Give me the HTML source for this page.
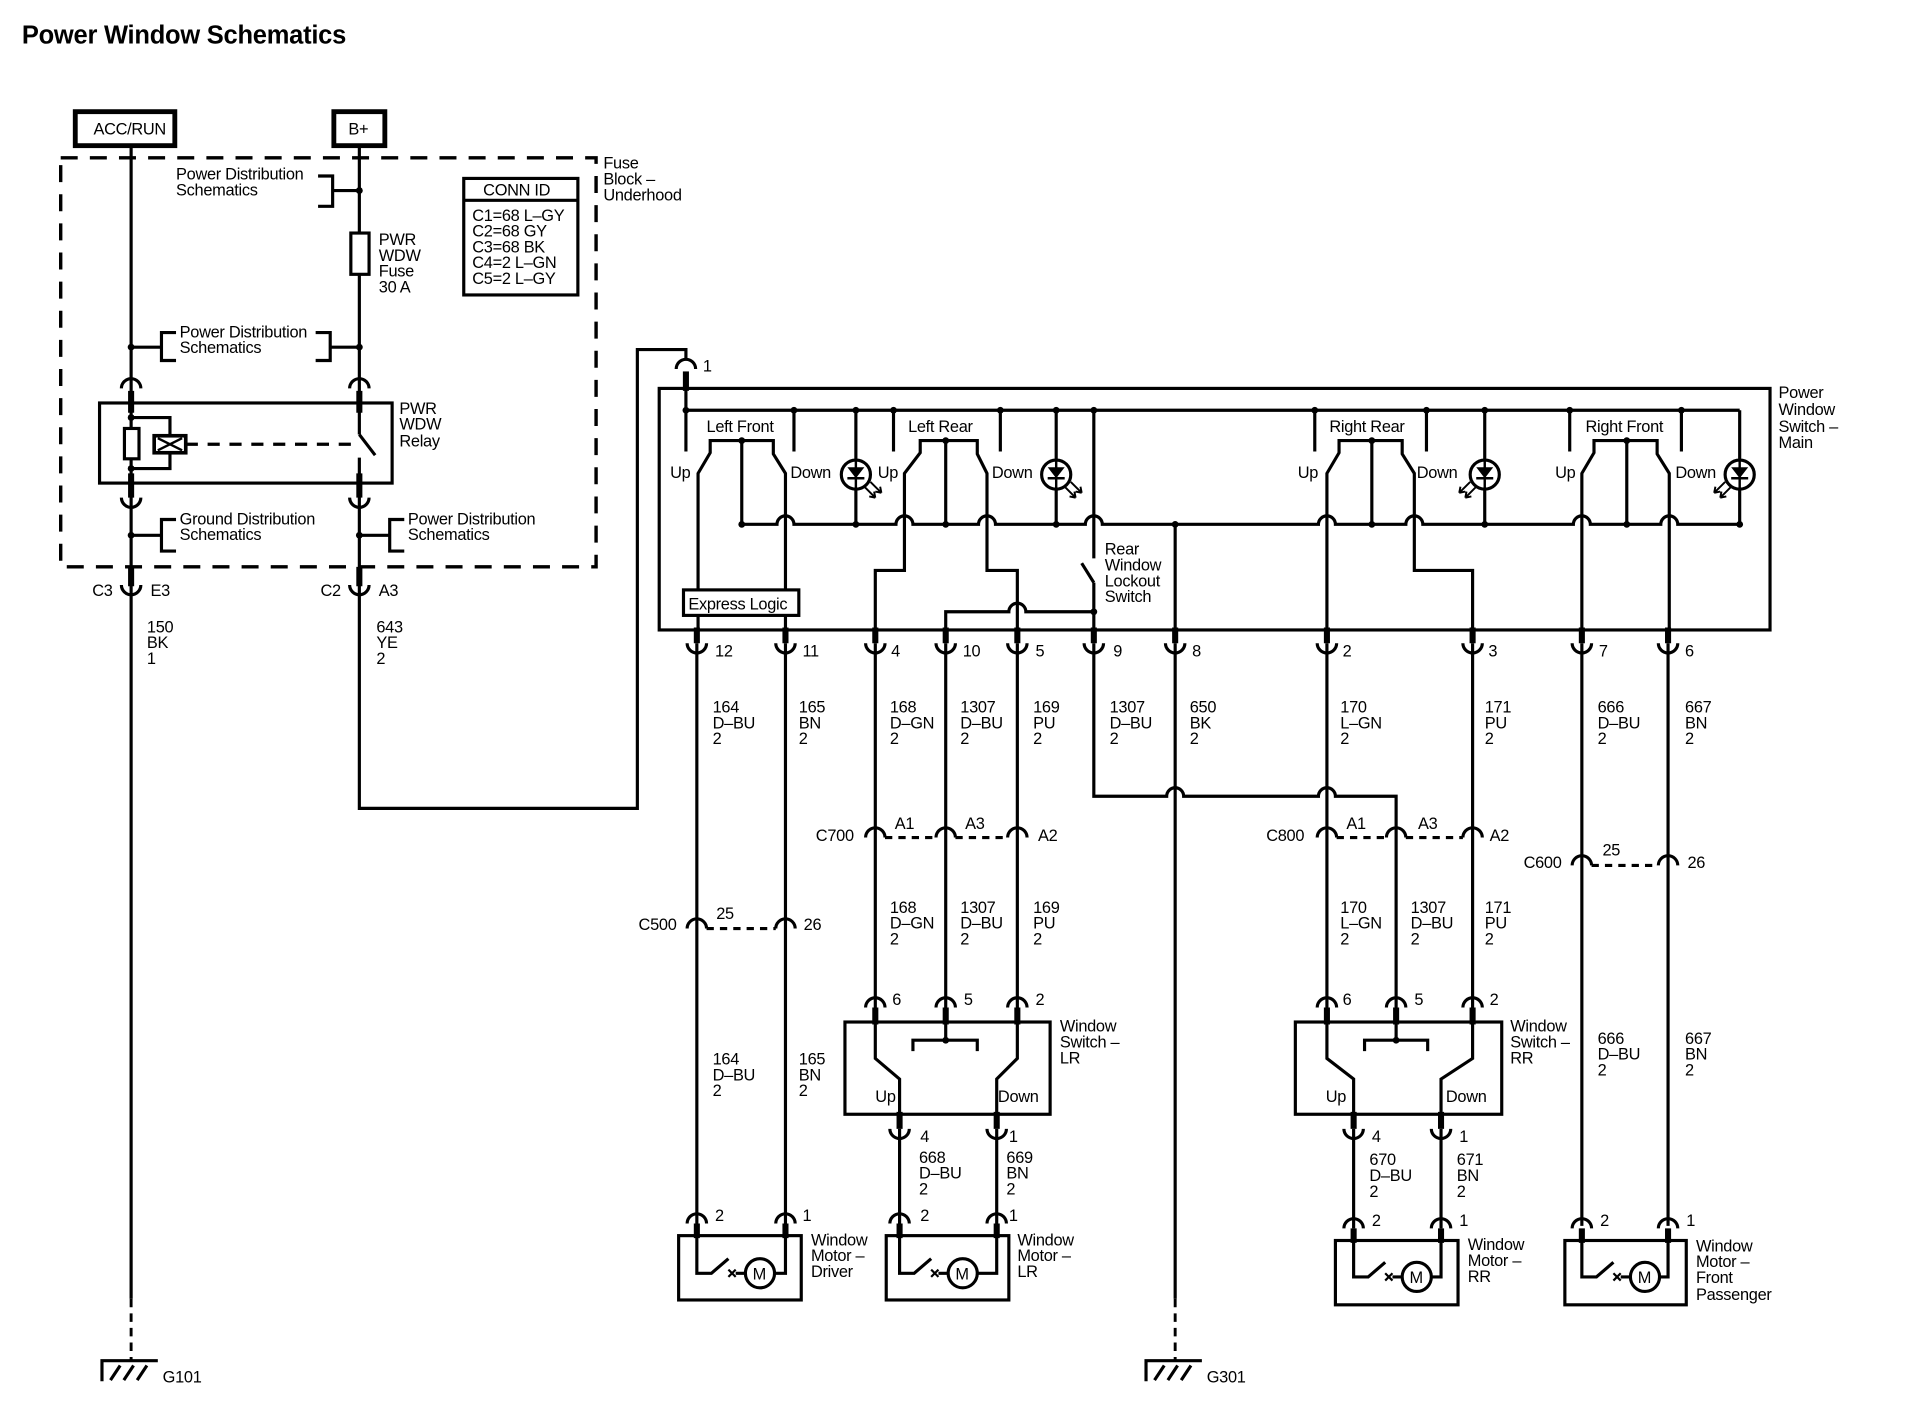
<!DOCTYPE html>
<html><head><meta charset="utf-8"><style>
html,body{margin:0;padding:0;background:#fff;}
svg{display:block;}
text{font-family:"Liberation Sans",Arial,sans-serif;font-size:13.5px;fill:#000;letter-spacing:-0.25px;}
.w{fill:none;stroke:#000;stroke-width:2.6;}
.k{fill:none;stroke:#000;stroke-width:5;}
.d{fill:none;stroke:#000;stroke-width:2.8;stroke-dasharray:14 10;}
.dt{fill:none;stroke:#000;stroke-width:2.4;stroke-dasharray:7 5;}
.b{fill:#fff;stroke:#000;stroke-width:2.6;}
</style></head><body>
<svg width="1906" height="1408" viewBox="0 0 1570 1160" preserveAspectRatio="none" xmlns="http://www.w3.org/2000/svg">
<rect width="1570" height="1160" fill="#fff"/>
<text x="18" y="36" style="font-size:21px;font-weight:bold;letter-spacing:-0.2px">Power Window Schematics</text>

<!-- top sources -->
<rect x="62" y="92" width="82" height="28" class="w" style="stroke-width:4"/>
<text x="77" y="111">ACC/RUN</text>
<rect x="275" y="92" width="42" height="28" class="w" style="stroke-width:4"/>
<text x="287" y="111">B+</text>

<!-- dashed fuse block -->
<rect x="50" y="130" width="441" height="337" class="d"/>
<text x="497" y="139">Fuse</text><text x="497" y="152">Block –</text><text x="497" y="165">Underhood</text>

<!-- CONN ID -->
<rect x="382" y="147" width="94" height="96" class="w"/>
<line x1="382" y1="165" x2="476" y2="165" class="w"/>
<text x="398" y="161">CONN ID</text>
<text x="389" y="182">C1=68 L–GY</text><text x="389" y="195">C2=68 GY</text><text x="389" y="208">C3=68 BK</text><text x="389" y="221">C4=2 L–GN</text><text x="389" y="234">C5=2 L–GY</text>

<!-- left wire 108 -->
<path d="M108 120 V1070" class="w"/>
<path d="M108 1070 V1120" class="dt"/>
<path d="M84 1138 V1121 H130 M91 1137 L99 1125 M102 1137 L110 1125 M113 1137 L121 1125" class="w"/>
<text x="134" y="1139">G101</text>
<!-- right wire 296 -->
<path d="M296 120 V358 M296 377 V666 H525 V288 H565 V296" class="w"/>
<path d="M296 358 L309 375" class="w"/>

<!-- PD bracket 1 -->
<text x="145" y="148">Power Distribution</text><text x="145" y="161">Schematics</text>
<path d="M262 145 H274 V170 H262 M274 157 H296" class="w"/>
<circle cx="296" cy="157" r="2.8"/>
<rect x="289" y="192" width="15" height="34" class="b"/>
<text x="312" y="202">PWR</text><text x="312" y="215">WDW</text><text x="312" y="228">Fuse</text><text x="312" y="241">30 A</text>

<!-- PD bracket 2 -->
<text x="148" y="278">Power Distribution</text><text x="148" y="291">Schematics</text>
<path d="M145 274 H133 V297 H145 M108 286 H133" class="w"/>
<path d="M260 274 H272 V297 H260 M272 286 H296" class="w"/>
<circle cx="108" cy="286" r="2.8"/><circle cx="296" cy="286" r="2.8"/>

<!-- relay -->
<path d="M100 320 A8 8 0 0 1 116 320 M288 320 A8 8 0 0 1 304 320" class="w"/>
<path d="M108 322 V340 M296 322 V340 M108 390 V410 M296 390 V410" class="k"/>
<rect x="82" y="332" width="241" height="66" class="w"/>
<text x="329" y="341">PWR</text><text x="329" y="354">WDW</text><text x="329" y="368">Relay</text>
<path d="M108 344 H140 V360 M140 373 V386 H108" class="w"/>
<circle cx="108" cy="344" r="2.8"/><circle cx="108" cy="386" r="2.8"/>
<rect x="102.5" y="353" width="12" height="25" class="b"/>
<rect x="127" y="359" width="26" height="14" class="w" style="stroke-width:3"/>
<path d="M130 361 L150 371 M130 371 L150 361" class="w" style="stroke-width:2"/>
<path d="M153 366 H290" class="w" style="stroke-dasharray:10 8"/>
<path d="M100 410 A8 8 0 0 0 116 410 M288 410 A8 8 0 0 0 304 410" class="w"/>

<!-- ground / PD bracket 3 -->
<text x="148" y="432">Ground Distribution</text><text x="148" y="445">Schematics</text>
<path d="M145 428 H133 V454 H145 M108 441 H133" class="w"/>
<text x="336" y="432">Power Distribution</text><text x="336" y="445">Schematics</text>
<path d="M333 428 H321 V454 H333 M296 441 H321" class="w"/>
<circle cx="108" cy="441" r="2.8"/><circle cx="296" cy="441" r="2.8"/>

<!-- cups under fuse block -->
<path d="M108 467 V483 M296 467 V483" class="k"/>
<path d="M100 482 A8 8 0 0 0 116 482 M288 482 A8 8 0 0 0 304 482" class="w"/>
<text x="76" y="491">C3</text><text x="124" y="491">E3</text>
<text x="264" y="491">C2</text><text x="312" y="491">A3</text>
<text x="121" y="521">150</text><text x="121" y="534">BK</text><text x="121" y="547">1</text>
<text x="310" y="521">643</text><text x="310" y="534">YE</text><text x="310" y="547">2</text>

<!-- connector 1 -->
<path d="M557 304 A8 8 0 0 1 573 304" class="w"/>
<path d="M565 306 V322" class="k"/>
<text x="579" y="306">1</text>

<!-- main switch box -->
<rect x="543" y="320" width="915" height="199" class="w"/>
<text x="1465" y="328">Power</text><text x="1465" y="342">Window</text><text x="1465" y="356">Switch –</text><text x="1465" y="369">Main</text>
<path d="M565 320 V372 M565 338 H1433" class="w"/>
<path d="M654 338 V372 M736 338 V372 M824 338 V372 M1083 338 V372 M1175 338 V372 M1293 338 V372 M1385 338 V372 M901 338 V460 M891 464 L901 480 M901 480 V519" class="w"/>
<path d="M705 338 V432 M870 338 V432 M1223 338 V432 M1433 338 V432" class="w"/>
<path d="M611 432 H640 A7 7 0 0 1 654 432 H738 A7 7 0 0 1 752 432 H806 A7 7 0 0 1 820 432 H894 A7 7 0 0 1 908 432 H1086 A7 7 0 0 1 1100 432 H1158 A7 7 0 0 1 1172 432 H1296 A7 7 0 0 1 1310 432 H1368 A7 7 0 0 1 1382 432 H1433" class="w"/>
<path d="M575 519 V390 L585 373 V363 H637 V374 L647 390 V519 M611 363 V432" class="w"/>
<path d="M721 519 V470 H745 V390 L758 373 V363 H805 V374 L813 390 V470 H838 V519 M779 363 V432" class="w"/>
<path d="M779 519 V504 H831 A7 7 0 0 1 845 504 H901" class="w"/>
<path d="M1093 519 V390 L1103 373 V363 H1155 V374 L1165 390 V470 H1213 V519 M1130 363 V432" class="w"/>
<path d="M1303 519 V390 L1313 373 V363 H1365 V374 L1375 390 V519 M1340 363 V432" class="w"/>
<path d="M968 432 V519" class="w"/>
<g>
<circle cx="565" cy="338" r="2.8"/><circle cx="654" cy="338" r="2.8"/><circle cx="705" cy="338" r="2.8"/><circle cx="736" cy="338" r="2.8"/><circle cx="824" cy="338" r="2.8"/><circle cx="870" cy="338" r="2.8"/><circle cx="901" cy="338" r="2.8"/><circle cx="1083" cy="338" r="2.8"/><circle cx="1175" cy="338" r="2.8"/><circle cx="1223" cy="338" r="2.8"/><circle cx="1293" cy="338" r="2.8"/><circle cx="1385" cy="338" r="2.8"/>
<circle cx="611" cy="363" r="2.8"/><circle cx="779" cy="363" r="2.8"/><circle cx="1130" cy="363" r="2.8"/><circle cx="1340" cy="363" r="2.8"/>
<circle cx="611" cy="432" r="2.8"/><circle cx="705" cy="432" r="2.8"/><circle cx="779" cy="432" r="2.8"/><circle cx="870" cy="432" r="2.8"/><circle cx="968" cy="432" r="2.8"/><circle cx="1130" cy="432" r="2.8"/><circle cx="1223" cy="432" r="2.8"/><circle cx="1340" cy="432" r="2.8"/><circle cx="1433" cy="432" r="2.8"/>
<circle cx="901" cy="504" r="2.8"/>
</g>
<text x="582" y="356">Left Front</text><text x="748" y="356">Left Rear</text><text x="1095" y="356">Right Rear</text><text x="1306" y="356">Right Front</text>
<text x="552" y="394">Up</text><text x="651" y="394">Down</text>
<text x="723" y="394">Up</text><text x="817" y="394">Down</text>
<text x="1069" y="394">Up</text><text x="1167" y="394">Down</text>
<text x="1281" y="394">Up</text><text x="1380" y="394">Down</text>
<text x="910" y="457">Rear</text><text x="910" y="470">Window</text><text x="910" y="483">Lockout</text><text x="910" y="496">Switch</text>
<g>
<circle cx="705" cy="391" r="12" class="b"/><path d="M705 379 V403 M698 394 H712" class="w" style="stroke-width:2"/><path d="M698 385 H712 L705 394 Z"/>
<path d="M712 401 L721 410 M717 397 L726 406 M721 410 l-1 -5 M721 410 l-5 -1 M726 406 l-1 -5 M726 406 l-5 -1" class="w" style="stroke-width:1.6"/>
<circle cx="870" cy="391" r="12" class="b"/><path d="M870 379 V403 M863 394 H877" class="w" style="stroke-width:2"/><path d="M863 385 H877 L870 394 Z"/>
<path d="M877 401 L886 410 M882 397 L891 406 M886 410 l-1 -5 M886 410 l-5 -1 M891 406 l-1 -5 M891 406 l-5 -1" class="w" style="stroke-width:1.6"/>
<circle cx="1223" cy="391" r="12" class="b"/><path d="M1223 379 V403 M1216 394 H1230" class="w" style="stroke-width:2"/><path d="M1216 385 H1230 L1223 394 Z"/>
<path d="M1216 401 L1207 410 M1211 397 L1202 406 M1207 410 l1 -5 M1207 410 l5 -1 M1202 406 l1 -5 M1202 406 l5 -1" class="w" style="stroke-width:1.6"/>
<circle cx="1433" cy="391" r="12" class="b"/><path d="M1433 379 V403 M1426 394 H1440" class="w" style="stroke-width:2"/><path d="M1426 385 H1440 L1433 394 Z"/>
<path d="M1426 401 L1417 410 M1421 397 L1412 406 M1417 410 l1 -5 M1417 410 l5 -1 M1412 406 l1 -5 M1412 406 l5 -1" class="w" style="stroke-width:1.6"/>
</g>
<rect x="563" y="486" width="95" height="21" class="b"/>
<text x="567" y="502">Express Logic</text>

<path d="M574 517 V530 M647 517 V530 M721 517 V530 M779 517 V530 M838 517 V530 M901 517 V530 M968 517 V530 M1093 517 V530 M1213 517 V530 M1303 517 V530 M1374 517 V530" class="k"/>
<path d="M566 530 A8 8 0 0 0 582 530 M639 530 A8 8 0 0 0 655 530 M713 530 A8 8 0 0 0 729 530 M771 530 A8 8 0 0 0 787 530 M830 530 A8 8 0 0 0 846 530 M893 530 A8 8 0 0 0 909 530 M960 530 A8 8 0 0 0 976 530 M1085 530 A8 8 0 0 0 1101 530 M1205 530 A8 8 0 0 0 1221 530 M1295 530 A8 8 0 0 0 1311 530 M1366 530 A8 8 0 0 0 1382 530" class="w"/>
<text x="589" y="541">12</text><text x="661" y="541">11</text><text x="734" y="541">4</text><text x="793" y="541">10</text><text x="853" y="541">5</text><text x="917" y="541">9</text><text x="982" y="541">8</text><text x="1106" y="541">2</text><text x="1226" y="541">3</text><text x="1317" y="541">7</text><text x="1388" y="541">6</text>

<path d="M574 530 V1018 M647 530 V1018 M721 530 V830 M779 530 V830 M838 530 V830 M1093 530 V830 M1213 530 V830 M1303 530 V1010 M1374 530 V1010 M968 530 V1070" class="w"/>
<path d="M968 1070 V1120" class="dt"/>
<path d="M944 1138 V1121 H990 M951 1137 L959 1125 M962 1137 L970 1125 M973 1137 L981 1125" class="w"/>
<text x="994" y="1139">G301</text>
<path d="M901 530 V656 H961 A7 7 0 0 1 975 656 H1086 A7 7 0 0 1 1100 656 H1150 V830" class="w"/>

<g>
<text x="587" y="587">164</text><text x="587" y="600">D–BU</text><text x="587" y="613">2</text>
<text x="658" y="587">165</text><text x="658" y="600">BN</text><text x="658" y="613">2</text>
<text x="733" y="587">168</text><text x="733" y="600">D–GN</text><text x="733" y="613">2</text>
<text x="791" y="587">1307</text><text x="791" y="600">D–BU</text><text x="791" y="613">2</text>
<text x="851" y="587">169</text><text x="851" y="600">PU</text><text x="851" y="613">2</text>
<text x="914" y="587">1307</text><text x="914" y="600">D–BU</text><text x="914" y="613">2</text>
<text x="980" y="587">650</text><text x="980" y="600">BK</text><text x="980" y="613">2</text>
<text x="1104" y="587">170</text><text x="1104" y="600">L–GN</text><text x="1104" y="613">2</text>
<text x="1223" y="587">171</text><text x="1223" y="600">PU</text><text x="1223" y="613">2</text>
<text x="1316" y="587">666</text><text x="1316" y="600">D–BU</text><text x="1316" y="613">2</text>
<text x="1388" y="587">667</text><text x="1388" y="600">BN</text><text x="1388" y="613">2</text>
</g>

<path d="M713 690 A8 8 0 0 1 729 690 M771 690 A8 8 0 0 1 787 690 M830 690 A8 8 0 0 1 846 690" class="w"/>
<path d="M729 690 H771 M787 690 H830" class="w" style="stroke-dasharray:6 5"/>
<text x="672" y="693">C700</text><text x="737" y="683">A1</text><text x="795" y="683">A3</text><text x="855" y="693">A2</text>
<path d="M1085 690 A8 8 0 0 1 1101 690 M1142 690 A8 8 0 0 1 1158 690 M1205 690 A8 8 0 0 1 1221 690" class="w"/>
<path d="M1101 690 H1142 M1158 690 H1205" class="w" style="stroke-dasharray:6 5"/>
<text x="1043" y="693">C800</text><text x="1109" y="683">A1</text><text x="1168" y="683">A3</text><text x="1227" y="693">A2</text>
<path d="M1295 713 A8 8 0 0 1 1311 713 M1366 713 A8 8 0 0 1 1382 713" class="w"/>
<path d="M1311 713 H1366" class="w" style="stroke-dasharray:6 5"/>
<text x="1255" y="715">C600</text><text x="1320" y="705">25</text><text x="1390" y="715">26</text>
<path d="M566 765 A8 8 0 0 1 582 765 M639 765 A8 8 0 0 1 655 765" class="w"/>
<path d="M582 765 H639" class="w" style="stroke-dasharray:6 5"/>
<text x="526" y="766">C500</text><text x="590" y="757">25</text><text x="662" y="766">26</text>

<g>
<text x="733" y="752">168</text><text x="733" y="765">D–GN</text><text x="733" y="778">2</text>
<text x="791" y="752">1307</text><text x="791" y="765">D–BU</text><text x="791" y="778">2</text>
<text x="851" y="752">169</text><text x="851" y="765">PU</text><text x="851" y="778">2</text>
<text x="1104" y="752">170</text><text x="1104" y="765">L–GN</text><text x="1104" y="778">2</text>
<text x="1162" y="752">1307</text><text x="1162" y="765">D–BU</text><text x="1162" y="778">2</text>
<text x="1223" y="752">171</text><text x="1223" y="765">PU</text><text x="1223" y="778">2</text>
<text x="587" y="877">164</text><text x="587" y="890">D–BU</text><text x="587" y="903">2</text>
<text x="658" y="877">165</text><text x="658" y="890">BN</text><text x="658" y="903">2</text>
<text x="1316" y="860">666</text><text x="1316" y="873">D–BU</text><text x="1316" y="886">2</text>
<text x="1388" y="860">667</text><text x="1388" y="873">BN</text><text x="1388" y="886">2</text>
</g>

<path d="M713 830 A8 8 0 0 1 729 830 M771 830 A8 8 0 0 1 787 830 M830 830 A8 8 0 0 1 846 830" class="w"/>
<path d="M721 830 V844 M779 830 V844 M838 830 V844" class="k"/>
<text x="735" y="828">6</text><text x="794" y="828">5</text><text x="853" y="828">2</text>
<rect x="696" y="842" width="169" height="76" class="w"/>
<path d="M779 842 V857 M752 866 V857 H805 V866 M721 842 V872 L741 889 V918 M838 842 V872 L821 889 V918" class="w"/>
<circle cx="779" cy="857" r="2.8"/>
<text x="721" y="908">Up</text><text x="822" y="908">Down</text>
<text x="873" y="850">Window</text><text x="873" y="863">Switch –</text><text x="873" y="876">LR</text>
<path d="M741 916 V930 M821 916 V930" class="k"/>
<path d="M733 930 A8 8 0 0 0 749 930 M813 930 A8 8 0 0 0 829 930" class="w"/>
<text x="758" y="941">4</text><text x="831" y="941">1</text>
<path d="M741 930 V1008 M821 930 V1008" class="w"/>
<text x="757" y="958">668</text><text x="757" y="971">D–BU</text><text x="757" y="984">2</text>
<text x="829" y="958">669</text><text x="829" y="971">BN</text><text x="829" y="984">2</text>

<path d="M1085 830 A8 8 0 0 1 1101 830 M1142 830 A8 8 0 0 1 1158 830 M1205 830 A8 8 0 0 1 1221 830" class="w"/>
<path d="M1093 830 V844 M1150 830 V844 M1213 830 V844" class="k"/>
<text x="1106" y="828">6</text><text x="1165" y="828">5</text><text x="1227" y="828">2</text>
<rect x="1067" y="842" width="170" height="76" class="w"/>
<path d="M1150 842 V857 M1124 866 V857 H1176 V866 M1093 842 V872 L1115 889 V918 M1213 842 V872 L1187 889 V918" class="w"/>
<circle cx="1150" cy="857" r="2.8"/>
<text x="1092" y="908">Up</text><text x="1191" y="908">Down</text>
<text x="1244" y="850">Window</text><text x="1244" y="863">Switch –</text><text x="1244" y="876">RR</text>
<path d="M1115 916 V930 M1187 916 V930" class="k"/>
<path d="M1107 930 A8 8 0 0 0 1123 930 M1179 930 A8 8 0 0 0 1195 930" class="w"/>
<text x="1130" y="941">4</text><text x="1202" y="941">1</text>
<path d="M1115 930 V1012 M1187 930 V1012" class="w"/>
<text x="1128" y="960">670</text><text x="1128" y="973">D–BU</text><text x="1128" y="986">2</text>
<text x="1200" y="960">671</text><text x="1200" y="973">BN</text><text x="1200" y="986">2</text>

<g>
<path d="M566 1008 A8 8 0 0 1 582 1008 M639 1008 A8 8 0 0 1 655 1008" class="w"/>
<path d="M574 1008 V1020 M647 1008 V1020" class="k"/>
<text x="589" y="1006">2</text><text x="661" y="1006">1</text>
<rect x="559" y="1018" width="101" height="53" class="w"/>
<path d="M574 1018 V1049 H586 L600 1037 M606 1049 H614 M638 1049 H647 V1018" class="w"/>
<path d="M600 1046 L606 1052 M606 1046 L600 1052" class="w" style="stroke-width:1.8"/>
<circle cx="626" cy="1049" r="12" class="w"/><text x="620" y="1054">M</text>
<text x="668" y="1026">Window</text><text x="668" y="1039">Motor –</text><text x="668" y="1052">Driver</text>
<path d="M733 1008 A8 8 0 0 1 749 1008 M813 1008 A8 8 0 0 1 829 1008" class="w"/>
<path d="M741 1008 V1020 M821 1008 V1020" class="k"/>
<text x="758" y="1006">2</text><text x="831" y="1006">1</text>
<rect x="730" y="1018" width="101" height="53" class="w"/>
<path d="M741 1018 V1049 H753 L767 1037 M773 1049 H781 M805 1049 H821 V1018" class="w"/>
<path d="M767 1046 L773 1052 M773 1046 L767 1052" class="w" style="stroke-width:1.8"/>
<circle cx="793" cy="1049" r="12" class="w"/><text x="787" y="1054">M</text>
<text x="838" y="1026">Window</text><text x="838" y="1039">Motor –</text><text x="838" y="1052">LR</text>
<path d="M1107 1012 A8 8 0 0 1 1123 1012 M1179 1012 A8 8 0 0 1 1195 1012" class="w"/>
<path d="M1115 1012 V1024 M1187 1012 V1024" class="k"/>
<text x="1130" y="1010">2</text><text x="1202" y="1010">1</text>
<rect x="1100" y="1022" width="101" height="53" class="w"/>
<path d="M1115 1022 V1052 H1127 L1141 1040 M1147 1052 H1155 M1179 1052 H1187 V1022" class="w"/>
<path d="M1141 1049 L1147 1055 M1147 1049 L1141 1055" class="w" style="stroke-width:1.8"/>
<circle cx="1167" cy="1052" r="12" class="w"/><text x="1161" y="1057">M</text>
<text x="1209" y="1030">Window</text><text x="1209" y="1043">Motor –</text><text x="1209" y="1056">RR</text>
<path d="M1295 1012 A8 8 0 0 1 1311 1012 M1366 1012 A8 8 0 0 1 1382 1012" class="w"/>
<path d="M1303 1012 V1024 M1374 1012 V1024" class="k"/>
<text x="1318" y="1010">2</text><text x="1389" y="1010">1</text>
<rect x="1289" y="1022" width="100" height="53" class="w"/>
<path d="M1303 1022 V1052 H1315 L1329 1040 M1335 1052 H1343 M1367 1052 H1374 V1022" class="w"/>
<path d="M1329 1049 L1335 1055 M1335 1049 L1329 1055" class="w" style="stroke-width:1.8"/>
<circle cx="1355" cy="1052" r="12" class="w"/><text x="1349" y="1057">M</text>
<text x="1397" y="1031">Window</text><text x="1397" y="1044">Motor –</text><text x="1397" y="1057">Front</text><text x="1397" y="1071">Passenger</text>
</g>
</svg>
</body></html>
